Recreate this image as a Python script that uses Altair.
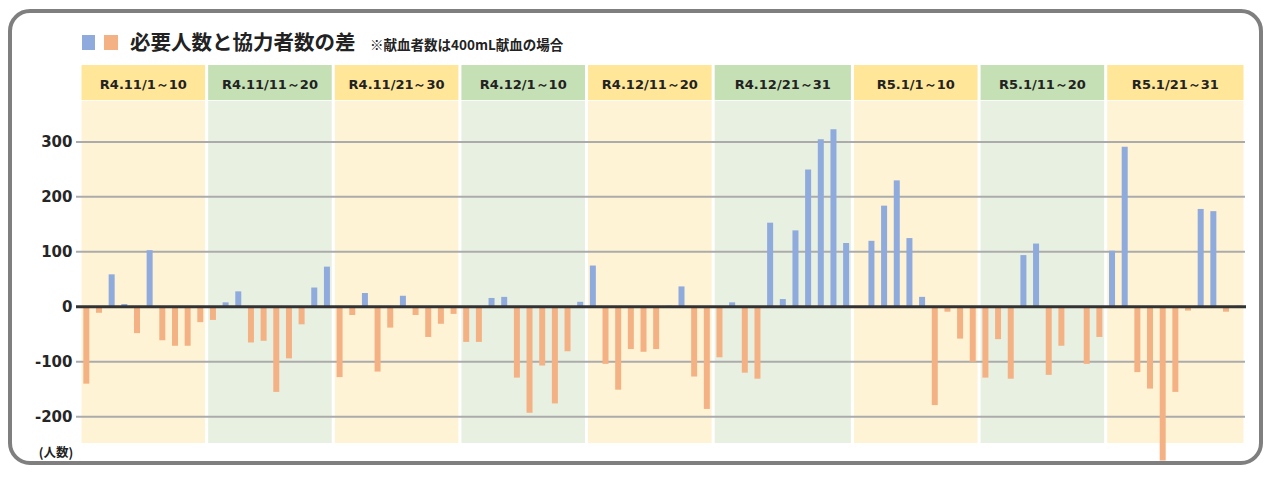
import altair as alt
import pandas as pd

# ---- data ----
periods = ["R4.11/1～10", "R4.11/11～20", "R4.11/21～30", "R4.12/1～10", "R4.12/11～20",
           "R4.12/21～31", "R5.1/1～10", "R5.1/11～20", "R5.1/21～31"]
period_days = [10, 10, 10, 10, 10, 11, 10, 10, 11]

nov = [-140, -11, 59, 5, -48, 103, -61, -71, -71, -28,
       -24, 8, 28, -65, -62, -155, -94, -32, 35, 73,
       -128, -15, 25, -118, -38, 20, -15, -55, -31, -13]
dec = [-64, -64, 16, 18, -129, -193, -107, -176, -81, 9,
       75, -104, -151, -77, -82, -77, 2, 37, -127, -186,
       -92, 8, -120, -131, 153, 14, 139, 250, 305, 323, 116]
jan = [0, 120, 184, 230, 125, 18, -179, -9, -58, -100,
       -129, -59, -131, 94, 115, -124, -71, 0, -104, -55,
       102, 291, -119, -149, -280, -155, -7, 178, 174, -9, 2]
values = nov + dec + jan

y_ticks = [-200, -100, 0, 100, 200, 300]
title_text = "必要人数と協力者数の差"
note_text = "※献血者数は400mL献血の場合"
unit_text = "(人数)"

# ---- styles ----
BLUE = "#8FAADC"
ORANGE = "#F4B183"
HEAD_Y, HEAD_G = "#FFE699", "#C5E0B4"
BODY_Y, BODY_G = "#FFF3D6", "#E8F1E1"
W, H = 1165, 378
Y_DOMAIN = [-248, 440]
N_DAYS = sum(period_days)

ends = pd.Series(period_days).cumsum()
pdf = pd.DataFrame({
    "label": periods,
    "start": (ends - pd.Series(period_days)).tolist(),
    "end": ends.tolist(),
    "kind": [i % 2 for i in range(len(periods))],
})
ddf = pd.DataFrame({"day": list(range(1, N_DAYS + 1)), "value": values})
tdf = pd.DataFrame({"v": y_ticks})
one = pd.DataFrame({"a": [0]})

xs = alt.Scale(domain=[0, N_DAYS], nice=False, zero=False, padding=0)
ys = alt.Scale(domain=Y_DOMAIN, nice=False, zero=False, padding=0)

frame = alt.Chart(one).mark_rect(
    filled=False, stroke="#7F7F7F", strokeWidth=4, cornerRadius=20
).encode(x=alt.value(-70), x2=alt.value(1181), y=alt.value(-54), y2=alt.value(398))

panel_base = alt.Chart(pdf).transform_calculate(
    x0="datum.start + 0.12", x1="datum.end - 0.12"
)

body = panel_base.transform_calculate(
    fill=f"datum.kind == 0 ? '{BODY_Y}' : '{BODY_G}'"
).mark_rect().encode(
    x=alt.X("x0:Q", scale=xs, axis=None),
    x2="x1:Q",
    y=alt.datum(375, scale=ys),
    y2=alt.datum(Y_DOMAIN[0]),
    color=alt.Color("fill:N", scale=None),
)

head = panel_base.transform_calculate(
    fill=f"datum.kind == 0 ? '{HEAD_Y}' : '{HEAD_G}'"
).mark_rect().encode(
    x=alt.X("x0:Q", scale=xs, axis=None),
    x2="x1:Q",
    y=alt.datum(Y_DOMAIN[1], scale=ys),
    y2=alt.datum(376.5),
    color=alt.Color("fill:N", scale=None),
)

head_text = panel_base.transform_calculate(
    xm="(datum.start + datum.end) / 2"
).mark_text(
    font="DejaVu Sans", fontSize=13, fontWeight="bold", color="#222222", baseline="middle"
).encode(
    x=alt.X("xm:Q", scale=xs, axis=None),
    y=alt.datum(403, scale=ys),
    text="label:N",
)

grid = alt.Chart(tdf).transform_filter("datum.v != 0").mark_rule(
    color="#ABABAB", strokeWidth=2
).encode(
    y=alt.Y("v:Q", scale=ys, title=None),
    x=alt.value(-4), x2=alt.value(W),
)

bars = alt.Chart(ddf).transform_calculate(
    xc="datum.day - 0.5"
).mark_bar(size=6).encode(
    x=alt.X("xc:Q", scale=xs, axis=None),
    y=alt.Y("value:Q", scale=ys, axis=alt.Axis(
        values=y_ticks, domain=False, ticks=False, grid=False, labelPadding=8,
        labelFontSize=15, labelFontWeight="bold", labelFont="DejaVu Sans",
        labelColor="#262626", labelExpr="'' + datum.value", title=None)),
    y2=alt.datum(0),
    color=alt.condition("datum.value >= 0", alt.value(BLUE), alt.value(ORANGE)),
)

zero = alt.Chart(tdf).transform_filter("datum.v == 0").mark_rule(
    color="#333333", strokeWidth=3
).encode(
    y=alt.Y("v:Q", scale=ys, title=None),
    x=alt.value(-4), x2=alt.value(W + 1),
)

sq_blue = alt.Chart(one).mark_rect(color=BLUE).encode(
    x=alt.value(2), x2=alt.value(15), y=alt.value(-30), y2=alt.value(-15))
sq_orange = alt.Chart(one).mark_rect(color=ORANGE).encode(
    x=alt.value(24), x2=alt.value(38), y=alt.value(-30), y2=alt.value(-15))

title = alt.Chart(one).mark_text(
    text=title_text, font="Noto Sans CJK JP", fontSize=20.5, fontWeight="bold",
    color="#222222", align="left", baseline="middle"
).encode(x=alt.value(50), y=alt.value(-21))

note = alt.Chart(one).mark_text(
    text=note_text, font="Noto Sans CJK JP", fontSize=13.5, fontWeight="bold",
    color="#222222", align="left", baseline="middle"
).encode(x=alt.value(290), y=alt.value(-19))

unit = alt.Chart(one).mark_text(
    text=unit_text, font="Noto Sans CJK JP", fontSize=12.5, fontWeight="bold",
    color="#222222", align="center", baseline="middle"
).encode(x=alt.value(-24), y=alt.value(388))

chart = alt.layer(
    frame, body, head, head_text, grid, bars, zero, sq_blue, sq_orange, title, note, unit
).properties(
    width=W, height=H,
    autosize=alt.AutoSizeParams(type="none"),
    padding={"left": 72, "top": 57, "right": 18, "bottom": 22},
    background="white",
).configure_view(stroke=None)

chart.save("out.html", embed_options={"renderer": "svg", "actions": False})
